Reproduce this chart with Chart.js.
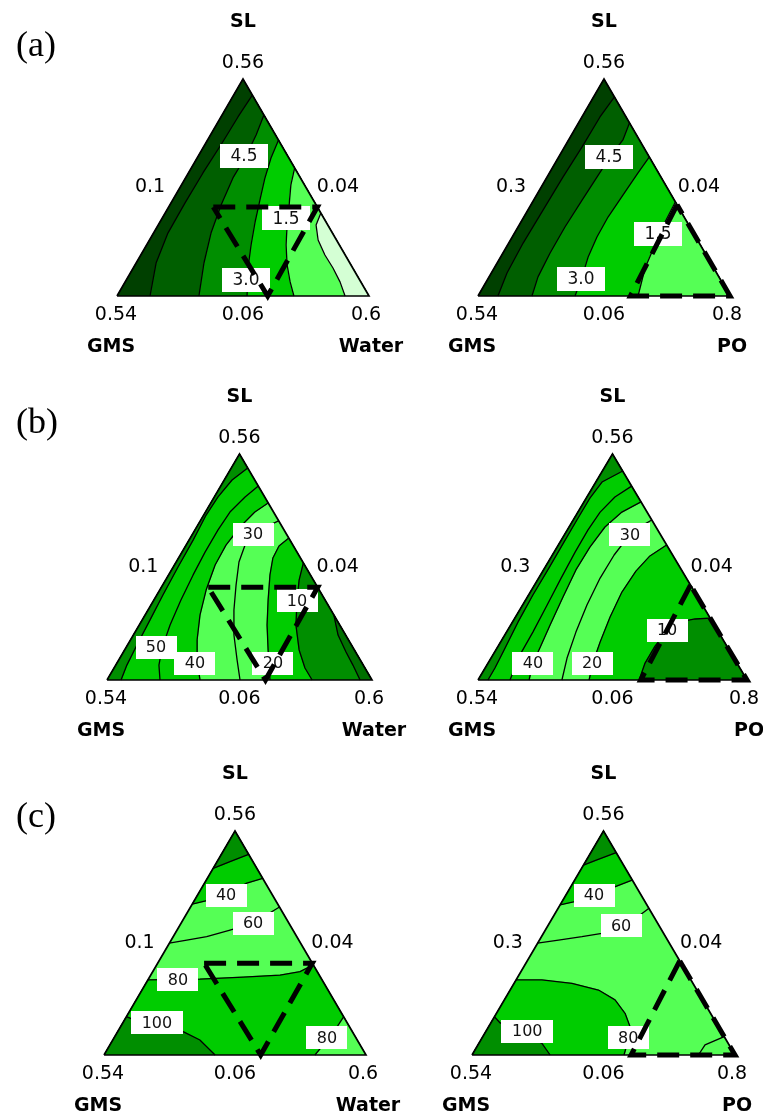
<!DOCTYPE html>
<html>
<head>
<meta charset="utf-8">
<script src="https://cdn.jsdelivr.net/npm/chart.js@4.4.1/dist/chart.umd.min.js"></script>
<style>
  html, body { margin: 0; padding: 0; background: #fff; }
  #page { position: relative; width: 763px; height: 1117px; overflow: hidden; }
  #page canvas { position: absolute; }
</style>
</head>
<body>
<div id="page"></div>
<script>
// ---- data: ternary plots, points are [x across base, SL height] in the triangle (0..1) ----
const water_ticks = ['0.56', '0.1', '0.04', '0.54', '0.06', '0.6'];
const oil_ticks = ['0.56', '0.3', '0.04', '0.54', '0.06', '0.8'];
const water_names = ['SL', 'GMS', 'Water'];
const oil_names = ['SL', 'GMS', 'PO'];
const panel_letters = ['(a)', '(b)', '(c)'];

// design space (dashed) in each kind of plot
const water_region = [[0.382, 0.41], [0.795, 0.41], [0.598, 0]];
const oil_region = [[0.79, 0.42], [0.605, 0], [1, 0]];

// (a) water / oil
const aL_contours = [
  [[0.537, 0.926], [0.480, 0.825], [0.417, 0.705], [0.341, 0.567], [0.270, 0.429], [0.202, 0.290], [0.155, 0.152], [0.131, 0]],
  [[0.583, 0.834], [0.552, 0.742], [0.512, 0.645], [0.460, 0.544], [0.413, 0.419], [0.373, 0.290], [0.345, 0.152], [0.325, 0]],
  [[0.641, 0.719], [0.611, 0.636], [0.587, 0.544], [0.567, 0.442], [0.548, 0.341], [0.532, 0.235], [0.520, 0.129], [0.516, 0]],
  [[0.705, 0.590], [0.690, 0.512], [0.683, 0.419], [0.675, 0.327], [0.671, 0.235], [0.675, 0.143], [0.687, 0.065], [0.702, 0]],
  [[0.809, 0.382], [0.790, 0.327], [0.798, 0.258], [0.825, 0.189], [0.857, 0.129], [0.885, 0.065], [0.905, 0]]
];
const aL_labels = ['4.5', '1.5', '3.0'];

const aR_contours = [
  [[0.541, 0.917], [0.484, 0.825], [0.413, 0.687], [0.337, 0.548], [0.258, 0.396], [0.179, 0.244], [0.115, 0.106], [0.079, 0]],
  [[0.601, 0.797], [0.575, 0.719], [0.524, 0.641], [0.472, 0.548], [0.413, 0.442], [0.345, 0.318], [0.286, 0.198], [0.238, 0.088], [0.214, 0]],
  [[0.680, 0.641], [0.635, 0.567], [0.575, 0.465], [0.516, 0.364], [0.472, 0.272], [0.437, 0.180], [0.413, 0.088], [0.385, 0]],
  [[0.783, 0.433], [0.742, 0.341], [0.702, 0.235], [0.663, 0.129], [0.635, 0]]
];
const aR_labels = ['4.5', '1.5', '3.0'];

// (b)
const bL_contours = [
  [[0.531, 0.938], [0.472, 0.885], [0.419, 0.810], [0.374, 0.730], [0.325, 0.619], [0.268, 0.500], [0.211, 0.376], [0.162, 0.265], [0.113, 0.155], [0.075, 0.066], [0.053, 0]],
  [[0.571, 0.858], [0.521, 0.810], [0.464, 0.743], [0.419, 0.664], [0.370, 0.566], [0.325, 0.465], [0.279, 0.354], [0.238, 0.243], [0.208, 0.142], [0.196, 0.066], [0.200, 0]],
  [[0.608, 0.783], [0.558, 0.743], [0.502, 0.677], [0.449, 0.597], [0.408, 0.509], [0.374, 0.398], [0.351, 0.288], [0.340, 0.177], [0.340, 0.088], [0.351, 0]],
  [[0.648, 0.704], [0.596, 0.677], [0.551, 0.646], [0.521, 0.597], [0.498, 0.522], [0.487, 0.420], [0.479, 0.310], [0.479, 0.199], [0.491, 0.088], [0.502, 0]],
  [[0.686, 0.628], [0.649, 0.593], [0.626, 0.540], [0.615, 0.465], [0.608, 0.354], [0.604, 0.243], [0.608, 0.133], [0.615, 0]],
  [[0.741, 0.518], [0.725, 0.442], [0.717, 0.354], [0.713, 0.243], [0.725, 0.133], [0.747, 0.053], [0.774, 0]],
  [[0.856, 0.288], [0.872, 0.199], [0.902, 0.124], [0.928, 0.066], [0.955, 0]]
];
const bL_labels = ['30', '10', '50', '40', '20'];

const bR_contours = [
  [[0.538, 0.925], [0.461, 0.876], [0.416, 0.805], [0.372, 0.717], [0.320, 0.611], [0.264, 0.496], [0.204, 0.376], [0.149, 0.257], [0.097, 0.133], [0.063, 0.053], [0.037, 0]],
  [[0.571, 0.858], [0.509, 0.810], [0.454, 0.743], [0.409, 0.664], [0.361, 0.566], [0.309, 0.451], [0.257, 0.332], [0.204, 0.212], [0.156, 0.111], [0.119, 0]],
  [[0.606, 0.788], [0.535, 0.743], [0.472, 0.677], [0.416, 0.588], [0.364, 0.487], [0.316, 0.367], [0.268, 0.243], [0.230, 0.142], [0.204, 0.075], [0.190, 0]],
  [[0.646, 0.708], [0.595, 0.673], [0.558, 0.633], [0.506, 0.553], [0.454, 0.451], [0.405, 0.332], [0.364, 0.212], [0.331, 0.097], [0.312, 0]],
  [[0.701, 0.597], [0.639, 0.549], [0.587, 0.482], [0.535, 0.389], [0.491, 0.279], [0.454, 0.168], [0.428, 0.080], [0.413, 0]],
  [[0.863, 0.274], [0.807, 0.270], [0.751, 0.257], [0.703, 0.217], [0.658, 0.150], [0.621, 0.075], [0.599, 0]]
];
const bR_labels = ['30', '10', '40', '20'];

// (c)
const cL_contours = [
  [[0.4167, 0.833], [0.481, 0.863], [0.552, 0.896]],
  [[0.337, 0.674], [0.392, 0.689], [0.468, 0.719], [0.545, 0.767], [0.606, 0.789]],
  [[0.249, 0.499], [0.316, 0.513], [0.392, 0.528], [0.481, 0.558], [0.569, 0.589], [0.670, 0.661]],
  [[0.167, 0.335], [0.366, 0.339], [0.531, 0.348], [0.672, 0.357], [0.748, 0.372], [0.799, 0.402]],
  [[0.0855, 0.171], [0.150, 0.140], [0.302, 0.104], [0.366, 0.067], [0.424, 0]],
  [[0.915, 0.171], [0.874, 0.098], [0.805, 0]]
];
const cL_labels = ['40', '60', '80', '100', '80'];

const cR_contours = [
  [[0.424, 0.848], [0.475, 0.871], [0.548, 0.903]],
  [[0.335, 0.670], [0.386, 0.684], [0.449, 0.707], [0.513, 0.737], [0.609, 0.781]],
  [[0.249, 0.499], [0.329, 0.513], [0.418, 0.528], [0.494, 0.543], [0.563, 0.576], [0.639, 0.625], [0.673, 0.655]],
  [[0.1675, 0.335], [0.266, 0.335], [0.380, 0.320], [0.481, 0.290], [0.544, 0.246], [0.582, 0.186], [0.601, 0.126], [0.594, 0.067], [0.578, 0]],
  [[0.0855, 0.171], [0.107, 0.143], [0.200, 0.095], [0.266, 0.052], [0.297, 0]],
  [[0.959, 0.082], [0.886, 0.045], [0.861, 0]]
];
const cR_labels = ['40', '60', '100', '80'];

// ---- styles / layout ----
const GREEN = {
  d0: '#004000', d1: '#005f00', d2: '#008e00', dx: '#007000',
  b: '#00cc00', l: '#55ff55', p: '#d4ffd4'
};
const CORNER = { L: [0, 0], R: [1, 0], T: [0.5, 1] };

// fill layers: [contour index, corners closing the region, colour]
const panels = [
  { contours: aL_contours, labels: aL_labels, ticks: water_ticks, names: water_names, region: water_region,
    base: 'd0', layers: [[0, 'R', 'd1'], [1, 'R', 'd2'], [2, 'R', 'b'], [3, 'R', 'l'], [4, 'R', 'p']],
    labelPos: [[0.504, 0.645], [0.671, 0.359], [0.512, 0.074]], labelFont: 17, boxH: 24,
    box: [0, 0, 420, 365], tri: [117, 79, 369, 296], letter: [panel_letters[0], 36, 47] },
  { contours: aR_contours, labels: aR_labels, ticks: oil_ticks, names: oil_names, region: oil_region,
    base: 'd0', layers: [[0, 'R', 'd1'], [1, 'R', 'd2'], [2, 'R', 'b'], [3, 'R', 'l']],
    labelPos: [[0.520, 0.641], [0.714, 0.286], [0.409, 0.078]], labelFont: 17, boxH: 24,
    box: [420, 0, 343, 365], tri: [478, 79, 730, 296] },
  { contours: bL_contours, labels: bL_labels, ticks: water_ticks, names: water_names, region: water_region,
    base: 'l', layers: [[2, 'LT', 'b'], [0, 'LT', 'd2'], [4, 'R', 'b'], [5, 'R', 'd2'], [6, 'R', 'dx']],
    labelPos: [[0.551, 0.646], [0.717, 0.350], [0.185, 0.146], [0.332, 0.075], [0.626, 0.075]], labelFont: 16, boxH: 23,
    box: [0, 365, 420, 380], tri: [107, 454, 372, 680], letter: [panel_letters[1], 37, 424] },
  { contours: bR_contours, labels: bR_labels, ticks: oil_ticks, names: oil_names, region: oil_region,
    base: 'l', layers: [[2, 'LT', 'b'], [0, 'LT', 'd2'], [4, 'R', 'b'], [5, 'R', 'd2']],
    labelPos: [[0.565, 0.642], [0.703, 0.221], [0.204, 0.075], [0.424, 0.075]], labelFont: 16, boxH: 23,
    box: [420, 365, 343, 380], tri: [478, 454, 747, 680] },
  { contours: cL_contours, labels: cL_labels, ticks: water_ticks, names: water_names, region: water_region,
    base: 'l', layers: [[1, 'T', 'b'], [0, 'T', 'd2'], [3, 'RL', 'b'], [4, 'L', 'd2'], [5, 'R', 'l']],
    labelPos: [[0.466, 0.714], [0.569, 0.589], [0.282, 0.335], [0.202, 0.143], [0.851, 0.076]], labelFont: 16, boxH: 23,
    box: [0, 745, 420, 372], tri: [104, 831, 366, 1055], letter: [panel_letters[2], 36, 818] },
  { contours: cR_contours, labels: cR_labels, ticks: oil_ticks, names: oil_names, region: oil_region,
    base: 'l', layers: [[1, 'T', 'b'], [0, 'T', 'd2'], [3, 'L', 'b'], [4, 'L', 'd2']],
    labelPos: [[0.464, 0.714], [0.567, 0.576], [0.210, 0.107], [0.594, 0.076]], labelFont: 16, boxH: 23,
    box: [420, 745, 343, 372], tri: [472, 831, 735, 1055] }
];

const toXY = pts => pts.map(([x, y]) => ({ x, y }));
const TRI = [CORNER.L, CORNER.R, CORNER.T, CORNER.L];

function ternaryPlugin(panel) {
  return {
    id: 'ternary',
    beforeDatasetDraw(chart, args) {
      if (chart.data.datasets[args.index].role !== 'frame') return;
      // contour value boxes sit under the dashed design space
      const ctx = chart.ctx, sx = chart.scales.x, sy = chart.scales.y;
      ctx.save();
      ctx.font = panel.labelFont + 'px "DejaVu Sans"';
      ctx.textAlign = 'center';
      ctx.textBaseline = 'middle';
      panel.labels.forEach((txt, i) => {
        const px = sx.getPixelForValue(panel.labelPos[i][0]);
        const py = sy.getPixelForValue(panel.labelPos[i][1]);
        const w = Math.round(ctx.measureText(txt).width + 21), h = panel.boxH;
        ctx.fillStyle = '#ffffff';
        ctx.fillRect(Math.round(px - w / 2), Math.round(py - h / 2), w, h);
        ctx.fillStyle = '#111';
        ctx.fillText(txt, px, py + 1);
      });
      ctx.restore();
    },
    afterDraw(chart) {
      const ctx = chart.ctx;
      const { left: L, right: R, top: T, bottom: B } = chart.chartArea;
      const cx = (L + R) / 2, my = (T + B) / 2;
      const t = panel.ticks, n = panel.names;
      ctx.save();
      ctx.fillStyle = '#000';
      ctx.textAlign = 'center';
      ctx.textBaseline = 'middle';
      ctx.font = '19px "DejaVu Sans"';
      ctx.fillText(t[0], cx, T - 16);
      ctx.fillText(t[1], (L + cx) / 2 - 30, my);
      ctx.fillText(t[2], (R + cx) / 2 + 32, my);
      ctx.fillText(t[3], L - 1, B + 19);
      ctx.fillText(t[4], cx, B + 19);
      ctx.fillText(t[5], R - 3, B + 19);
      ctx.font = 'bold 19px "DejaVu Sans"';
      ctx.fillText(n[0], cx, T - 57);
      ctx.fillText(n[1], L - 6, B + 51);
      ctx.fillText(n[2], R + 2, B + 51);
      if (panel.letter) {
        ctx.font = '36px "Liberation Serif"';
        ctx.fillText(panel.letter[0], panel.letter[1] - panel.box[0], panel.letter[2] - panel.box[1]);
      }
      ctx.restore();
    }
  };
}

function makePanel(panel) {
  const [bx, by, bw, bh] = panel.box;
  const [L, T, R, B] = panel.tri;
  const cv = document.createElement('canvas');
  cv.width = bw; cv.height = bh;
  cv.style.left = bx + 'px'; cv.style.top = by + 'px';
  document.getElementById('page').appendChild(cv);

  const common = { showLine: true, pointRadius: 0, pointHoverRadius: 0, tension: 0 };
  const datasets = [];
  let order = 1000;
  // coloured bands, painted from the base colour upward
  datasets.push(Object.assign({}, common, {
    data: toXY(TRI), fill: 'shape', backgroundColor: GREEN[panel.base],
    borderColor: GREEN[panel.base], borderWidth: 1, order: order--
  }));
  panel.layers.forEach(([ci, corners, col]) => {
    const line = panel.contours[ci];
    const poly = line.concat(corners.split('').map(k => CORNER[k]), [line[0]]);
    datasets.push(Object.assign({}, common, {
      data: toXY(poly), fill: 'shape', backgroundColor: GREEN[col],
      borderColor: GREEN[col], borderWidth: 1, order: order--
    }));
  });
  panel.contours.forEach(line => {
    datasets.push(Object.assign({}, common, {
      data: toXY(line), fill: false, borderColor: '#000', borderWidth: 1.3,
      borderJoinStyle: 'round', order: 50, clip: false
    }));
  });
  datasets.push(Object.assign({}, common, {
    data: toXY(TRI), fill: false, borderColor: '#000', borderWidth: 1.7, order: 20, clip: false
  }));
  datasets.push(Object.assign({}, common, {
    role: 'frame', data: toXY(panel.region.concat([panel.region[0]])), fill: false,
    borderColor: '#000', borderWidth: 5, borderDash: [22, 11], borderCapStyle: 'butt',
    borderJoinStyle: 'miter', order: 10, clip: false
  }));

  new Chart(cv, {
    type: 'line',
    data: { datasets },
    options: {
      responsive: false,
      animation: false,
      events: [],
      layout: { padding: { left: L - bx, top: T - by, right: bx + bw - R, bottom: by + bh - B } },
      scales: {
        x: { type: 'linear', min: 0, max: 1, display: false },
        y: { type: 'linear', min: 0, max: 1, display: false }
      },
      plugins: { legend: { display: false }, tooltip: { enabled: false } }
    },
    plugins: [ternaryPlugin(panel)]
  });
}

panels.forEach(makePanel);
</script>
</body>
</html>
